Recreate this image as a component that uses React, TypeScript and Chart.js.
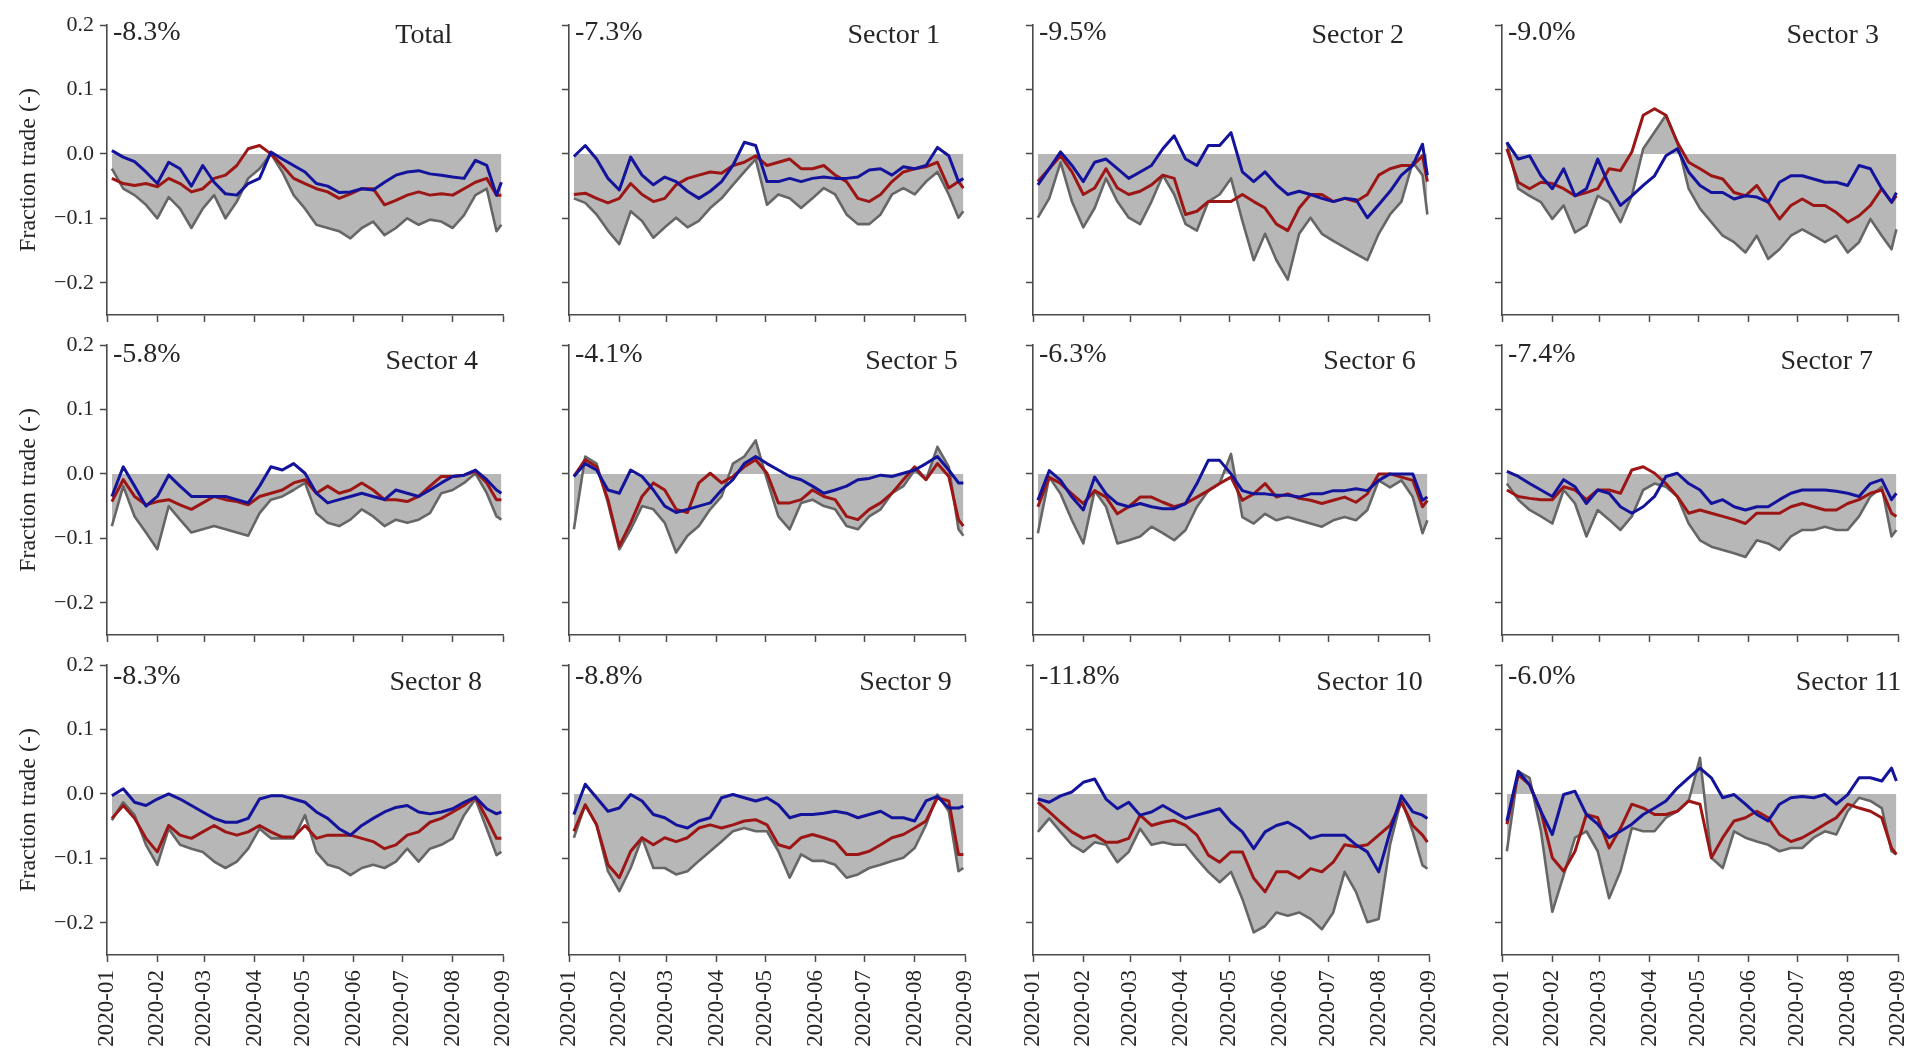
import React, { useEffect, useRef } from "react";
import { Chart, registerables } from "chart.js";

Chart.register(...registerables);

// ---------- data ----------
const DAYS = [3, 10, 17, 24, 31, 38, 45, 52, 59, 66, 73, 80, 87, 94, 101, 108, 115, 122, 129, 136, 143, 150, 157, 164, 171, 178, 185, 192, 199, 206, 213, 220, 227, 234, 240, 243];

const MONTH_DAYS = [0, 31, 60, 91, 121, 152, 182, 213, 244];
const MONTH_LABELS = ["2020-01", "2020-02", "2020-03", "2020-04", "2020-05", "2020-06", "2020-07", "2020-08", "2020-09"];
const Y_TICKS = [-0.2, -0.1, 0, 0.1, 0.2];
const Y_TICK_LABELS = ["\u22120.2", "\u22120.1", "0.0", "0.1", "0.2"];
const Y_TITLE = "Fraction trade (-)";

const PANEL_TITLES = ["Total", "Sector 1", "Sector 2", "Sector 3", "Sector 4", "Sector 5", "Sector 6", "Sector 7", "Sector 8", "Sector 9", "Sector 10", "Sector 11"];
const PANEL_PERCENTS = ["-8.3%", "-7.3%", "-9.5%", "-9.0%", "-5.8%", "-4.1%", "-6.3%", "-7.4%", "-8.3%", "-8.8%", "-11.8%", "-6.0%"];

const TOTAL_BLUE = [0.005, -0.005, -0.012, -0.028, -0.046, -0.013, -0.023, -0.05, -0.018, -0.044, -0.062, -0.064, -0.046, -0.038, 0.003, -0.008, -0.018, -0.028, -0.046, -0.05, -0.06, -0.059, -0.054, -0.056, -0.044, -0.033, -0.028, -0.026, -0.031, -0.033, -0.036, -0.038, -0.01, -0.018, -0.064, -0.044];
const TOTAL_RED = [-0.038, -0.046, -0.049, -0.046, -0.051, -0.038, -0.046, -0.059, -0.054, -0.038, -0.033, -0.018, 0.008, 0.013, 0.0, -0.018, -0.038, -0.046, -0.054, -0.059, -0.069, -0.062, -0.054, -0.054, -0.079, -0.072, -0.064, -0.059, -0.064, -0.062, -0.064, -0.054, -0.044, -0.038, -0.064, -0.064];
const TOTAL_GRAY = [-0.023, -0.054, -0.064, -0.079, -0.1, -0.067, -0.085, -0.115, -0.085, -0.064, -0.1, -0.074, -0.038, -0.023, 0.0, -0.028, -0.064, -0.085, -0.11, -0.115, -0.12, -0.131, -0.115, -0.105, -0.126, -0.115, -0.1, -0.11, -0.102, -0.105, -0.115, -0.095, -0.064, -0.054, -0.12, -0.11];

const S1_BLUE = [-0.004, 0.013, -0.008, -0.038, -0.056, -0.005, -0.033, -0.048, -0.036, -0.043, -0.058, -0.069, -0.058, -0.043, -0.018, 0.018, 0.013, -0.043, -0.043, -0.038, -0.043, -0.038, -0.036, -0.038, -0.038, -0.036, -0.025, -0.023, -0.033, -0.02, -0.023, -0.018, 0.01, -0.003, -0.043, -0.038];
const S1_RED = [-0.063, -0.061, -0.069, -0.076, -0.069, -0.046, -0.063, -0.074, -0.069, -0.048, -0.038, -0.033, -0.028, -0.03, -0.018, -0.013, -0.003, -0.018, -0.013, -0.008, -0.023, -0.023, -0.018, -0.033, -0.043, -0.069, -0.074, -0.063, -0.043, -0.028, -0.023, -0.02, -0.013, -0.053, -0.043, -0.053];
const S1_GRAY = [-0.069, -0.076, -0.094, -0.119, -0.14, -0.089, -0.104, -0.13, -0.114, -0.099, -0.114, -0.104, -0.084, -0.069, -0.048, -0.028, -0.008, -0.079, -0.063, -0.069, -0.084, -0.069, -0.053, -0.063, -0.094, -0.109, -0.109, -0.094, -0.063, -0.053, -0.063, -0.043, -0.028, -0.063, -0.099, -0.089];

const S2_BLUE = [-0.048, -0.023, 0.003, -0.018, -0.043, -0.013, -0.008, -0.023, -0.038, -0.028, -0.018, 0.008, 0.028, -0.008, -0.018, 0.013, 0.013, 0.033, -0.028, -0.043, -0.028, -0.048, -0.063, -0.058, -0.063, -0.069, -0.074, -0.069, -0.071, -0.099, -0.079, -0.058, -0.033, -0.018, 0.015, -0.033];
const S2_RED = [-0.043, -0.023, -0.003, -0.028, -0.063, -0.053, -0.023, -0.053, -0.063, -0.058, -0.048, -0.033, -0.038, -0.094, -0.089, -0.074, -0.074, -0.074, -0.063, -0.074, -0.084, -0.109, -0.119, -0.084, -0.063, -0.063, -0.074, -0.069, -0.074, -0.063, -0.033, -0.023, -0.018, -0.018, -0.003, -0.043];
const S2_GRAY = [-0.099, -0.069, -0.013, -0.074, -0.114, -0.084, -0.038, -0.074, -0.099, -0.109, -0.074, -0.033, -0.063, -0.109, -0.119, -0.074, -0.063, -0.038, -0.104, -0.165, -0.124, -0.165, -0.195, -0.124, -0.099, -0.124, -0.135, -0.145, -0.155, -0.165, -0.124, -0.094, -0.074, -0.013, -0.033, -0.094];

const S3_BLUE = [0.018, -0.008, -0.003, -0.034, -0.054, -0.023, -0.065, -0.054, -0.008, -0.049, -0.08, -0.065, -0.049, -0.034, -0.003, 0.008, -0.028, -0.049, -0.06, -0.06, -0.07, -0.065, -0.067, -0.075, -0.044, -0.034, -0.034, -0.039, -0.044, -0.044, -0.049, -0.018, -0.023, -0.054, -0.075, -0.06];
const S3_RED = [0.008, -0.044, -0.054, -0.044, -0.046, -0.054, -0.065, -0.06, -0.054, -0.023, -0.026, 0.003, 0.06, 0.07, 0.06, 0.018, -0.013, -0.023, -0.034, -0.039, -0.06, -0.065, -0.049, -0.075, -0.101, -0.08, -0.07, -0.08, -0.08, -0.091, -0.106, -0.096, -0.08, -0.054, -0.075, -0.065];
const S3_GRAY = [0.018, -0.054, -0.065, -0.075, -0.101, -0.08, -0.122, -0.111, -0.065, -0.075, -0.106, -0.065, 0.008, 0.034, 0.06, 0.018, -0.054, -0.085, -0.106, -0.127, -0.137, -0.153, -0.127, -0.163, -0.148, -0.127, -0.117, -0.127, -0.137, -0.127, -0.153, -0.137, -0.101, -0.127, -0.148, -0.117];

const S4_BLUE = [-0.035, 0.011, -0.019, -0.05, -0.035, -0.002, -0.019, -0.035, -0.035, -0.035, -0.035, -0.04, -0.045, -0.019, 0.011, 0.006, 0.016, 0.001, -0.03, -0.045, -0.04, -0.035, -0.03, -0.035, -0.04, -0.025, -0.03, -0.035, -0.025, -0.014, -0.004, -0.002, 0.006, -0.009, -0.025, -0.03];
const S4_RED = [-0.043, -0.009, -0.035, -0.048, -0.043, -0.04, -0.048, -0.055, -0.045, -0.035, -0.04, -0.043, -0.048, -0.035, -0.03, -0.025, -0.014, -0.009, -0.03, -0.019, -0.03, -0.025, -0.014, -0.025, -0.04, -0.04, -0.043, -0.035, -0.019, -0.004, -0.004, -0.002, 0.004, -0.014, -0.04, -0.04];
const S4_GRAY = [-0.081, -0.019, -0.066, -0.091, -0.117, -0.05, -0.071, -0.091, -0.086, -0.081, -0.086, -0.091, -0.096, -0.061, -0.04, -0.035, -0.025, -0.014, -0.061, -0.076, -0.081, -0.071, -0.055, -0.066, -0.081, -0.071, -0.076, -0.071, -0.061, -0.03, -0.025, -0.014, 0.001, -0.03, -0.066, -0.071];

const S5_BLUE = [-0.004, 0.016, 0.006, -0.025, -0.03, 0.006, -0.004, -0.025, -0.05, -0.06, -0.055, -0.05, -0.045, -0.025, -0.009, 0.016, 0.027, 0.016, 0.006, -0.004, -0.009, -0.019, -0.03, -0.025, -0.019, -0.009, -0.007, -0.002, -0.004, 0.001, 0.006, 0.016, 0.027, 0.006, -0.014, -0.014];
const S5_RED = [-0.004, 0.022, 0.011, -0.04, -0.112, -0.076, -0.035, -0.014, -0.025, -0.055, -0.06, -0.014, 0.001, -0.014, -0.004, 0.011, 0.022, 0.001, -0.045, -0.045, -0.04, -0.025, -0.035, -0.04, -0.066, -0.071, -0.055, -0.045, -0.03, -0.009, 0.011, -0.009, 0.016, -0.004, -0.071, -0.081];
const S5_GRAY = [-0.086, 0.027, 0.016, -0.045, -0.117, -0.086, -0.05, -0.055, -0.076, -0.122, -0.096, -0.081, -0.055, -0.035, 0.016, 0.027, 0.052, -0.009, -0.066, -0.086, -0.045, -0.04, -0.05, -0.055, -0.081, -0.086, -0.066, -0.055, -0.03, -0.019, 0.006, -0.009, 0.042, 0.011, -0.086, -0.096];

const S6_BLUE = [-0.041, 0.005, -0.01, -0.036, -0.056, -0.005, -0.031, -0.046, -0.051, -0.046, -0.051, -0.054, -0.054, -0.046, -0.015, 0.021, 0.021, 0.0, -0.026, -0.031, -0.031, -0.033, -0.033, -0.036, -0.031, -0.031, -0.026, -0.026, -0.023, -0.026, -0.01, 0.0, 0.0, 0.0, -0.041, -0.036];
const S6_RED = [-0.051, -0.005, -0.015, -0.031, -0.046, -0.026, -0.036, -0.062, -0.051, -0.036, -0.036, -0.044, -0.051, -0.046, -0.036, -0.026, -0.015, -0.005, -0.041, -0.031, -0.015, -0.036, -0.031, -0.038, -0.041, -0.046, -0.041, -0.036, -0.044, -0.031, 0.0, 0.0, -0.005, -0.01, -0.051, -0.041];
const S6_GRAY = [-0.092, -0.005, -0.031, -0.072, -0.108, -0.026, -0.051, -0.108, -0.103, -0.097, -0.082, -0.092, -0.103, -0.087, -0.051, -0.026, -0.015, 0.031, -0.067, -0.077, -0.062, -0.072, -0.067, -0.072, -0.077, -0.082, -0.072, -0.067, -0.072, -0.056, -0.01, -0.021, -0.01, -0.036, -0.092, -0.072];

const S7_BLUE = [0.004, -0.004, -0.015, -0.025, -0.035, -0.009, -0.02, -0.046, -0.025, -0.03, -0.051, -0.061, -0.051, -0.035, -0.004, 0.001, -0.015, -0.025, -0.046, -0.04, -0.051, -0.056, -0.051, -0.051, -0.04, -0.03, -0.025, -0.025, -0.025, -0.027, -0.03, -0.035, -0.015, -0.009, -0.04, -0.03];
const S7_RED = [-0.025, -0.035, -0.038, -0.04, -0.04, -0.02, -0.025, -0.04, -0.025, -0.025, -0.03, 0.006, 0.011, 0.001, -0.015, -0.035, -0.061, -0.056, -0.061, -0.066, -0.071, -0.077, -0.061, -0.061, -0.061, -0.051, -0.046, -0.051, -0.056, -0.056, -0.046, -0.04, -0.03, -0.025, -0.061, -0.066];
const S7_GRAY = [-0.015, -0.04, -0.056, -0.066, -0.077, -0.025, -0.046, -0.097, -0.056, -0.071, -0.087, -0.066, -0.025, -0.015, -0.02, -0.035, -0.077, -0.103, -0.113, -0.118, -0.123, -0.129, -0.103, -0.108, -0.118, -0.097, -0.087, -0.087, -0.082, -0.087, -0.087, -0.066, -0.035, -0.02, -0.097, -0.087];

const S8_BLUE = [-0.003, 0.008, -0.013, -0.018, -0.008, 0.0, -0.008, -0.018, -0.028, -0.038, -0.044, -0.044, -0.038, -0.008, -0.003, -0.003, -0.008, -0.013, -0.028, -0.038, -0.054, -0.064, -0.049, -0.038, -0.028, -0.021, -0.018, -0.028, -0.031, -0.028, -0.023, -0.013, -0.005, -0.023, -0.031, -0.028];
const S8_RED = [-0.038, -0.018, -0.038, -0.069, -0.09, -0.049, -0.064, -0.069, -0.059, -0.049, -0.059, -0.064, -0.059, -0.049, -0.059, -0.067, -0.067, -0.049, -0.069, -0.064, -0.064, -0.064, -0.069, -0.074, -0.085, -0.079, -0.064, -0.059, -0.044, -0.038, -0.028, -0.018, -0.005, -0.038, -0.069, -0.069];
const S8_GRAY = [-0.041, -0.013, -0.033, -0.079, -0.11, -0.054, -0.079, -0.085, -0.09, -0.105, -0.115, -0.105, -0.085, -0.054, -0.069, -0.069, -0.069, -0.033, -0.09, -0.11, -0.115, -0.126, -0.115, -0.11, -0.115, -0.105, -0.085, -0.105, -0.085, -0.079, -0.069, -0.033, -0.008, -0.054, -0.095, -0.09];

const S9_BLUE = [-0.032, 0.015, -0.006, -0.027, -0.022, -0.001, -0.011, -0.032, -0.037, -0.048, -0.053, -0.042, -0.037, -0.006, -0.001, -0.006, -0.011, -0.006, -0.017, -0.037, -0.032, -0.032, -0.03, -0.027, -0.03, -0.037, -0.032, -0.027, -0.037, -0.037, -0.042, -0.011, -0.004, -0.022, -0.022, -0.019];
const S9_RED = [-0.058, -0.017, -0.048, -0.11, -0.13, -0.089, -0.068, -0.079, -0.068, -0.074, -0.068, -0.053, -0.048, -0.053, -0.048, -0.042, -0.04, -0.048, -0.079, -0.084, -0.068, -0.063, -0.068, -0.074, -0.094, -0.094, -0.089, -0.079, -0.068, -0.063, -0.053, -0.042, -0.006, -0.011, -0.094, -0.094];
const S9_GRAY = [-0.068, -0.017, -0.048, -0.12, -0.151, -0.115, -0.068, -0.115, -0.115, -0.125, -0.12, -0.104, -0.089, -0.074, -0.058, -0.053, -0.058, -0.058, -0.089, -0.13, -0.094, -0.104, -0.104, -0.11, -0.13, -0.125, -0.115, -0.11, -0.104, -0.099, -0.084, -0.048, -0.001, -0.027, -0.12, -0.115];

const S10_BLUE = [-0.008, -0.013, -0.003, 0.003, 0.018, 0.023, -0.008, -0.023, -0.013, -0.033, -0.028, -0.018, -0.028, -0.038, -0.033, -0.028, -0.023, -0.044, -0.059, -0.085, -0.059, -0.049, -0.044, -0.054, -0.069, -0.064, -0.064, -0.064, -0.079, -0.09, -0.121, -0.059, -0.003, -0.028, -0.033, -0.038];
const S10_RED = [-0.013, -0.028, -0.044, -0.059, -0.069, -0.064, -0.075, -0.075, -0.069, -0.033, -0.049, -0.044, -0.041, -0.049, -0.064, -0.095, -0.106, -0.09, -0.09, -0.131, -0.152, -0.121, -0.121, -0.131, -0.116, -0.121, -0.106, -0.079, -0.082, -0.079, -0.064, -0.049, -0.013, -0.049, -0.064, -0.075];
const S10_GRAY = [-0.059, -0.038, -0.059, -0.079, -0.09, -0.075, -0.079, -0.106, -0.09, -0.054, -0.079, -0.075, -0.079, -0.079, -0.101, -0.121, -0.137, -0.121, -0.163, -0.215, -0.205, -0.184, -0.189, -0.184, -0.194, -0.21, -0.184, -0.121, -0.152, -0.199, -0.194, -0.079, -0.008, -0.059, -0.111, -0.116];

const S11_BLUE = [-0.042, 0.035, 0.014, -0.027, -0.063, -0.001, 0.004, -0.032, -0.047, -0.068, -0.058, -0.047, -0.032, -0.022, -0.011, 0.009, 0.025, 0.04, 0.025, -0.006, -0.001, -0.016, -0.032, -0.042, -0.016, -0.006, -0.004, -0.006, -0.001, -0.016, -0.001, 0.025, 0.025, 0.02, 0.04, 0.02];
const S11_RED = [-0.047, 0.03, 0.014, -0.027, -0.099, -0.12, -0.089, -0.032, -0.037, -0.084, -0.053, -0.016, -0.022, -0.032, -0.032, -0.027, -0.011, -0.016, -0.099, -0.068, -0.042, -0.037, -0.027, -0.037, -0.063, -0.074, -0.068, -0.058, -0.047, -0.037, -0.016, -0.022, -0.027, -0.037, -0.084, -0.094];
const S11_GRAY = [-0.089, 0.035, 0.025, -0.058, -0.183, -0.126, -0.068, -0.058, -0.089, -0.162, -0.12, -0.053, -0.058, -0.058, -0.037, -0.027, -0.011, 0.056, -0.099, -0.115, -0.058, -0.068, -0.074, -0.079, -0.089, -0.084, -0.084, -0.068, -0.058, -0.063, -0.027, -0.006, -0.011, -0.022, -0.089, -0.094];

const BLUE_SERIES = [TOTAL_BLUE, S1_BLUE, S2_BLUE, S3_BLUE, S4_BLUE, S5_BLUE, S6_BLUE, S7_BLUE, S8_BLUE, S9_BLUE, S10_BLUE, S11_BLUE];
const RED_SERIES = [TOTAL_RED, S1_RED, S2_RED, S3_RED, S4_RED, S5_RED, S6_RED, S7_RED, S8_RED, S9_RED, S10_RED, S11_RED];
const GRAY_SERIES = [TOTAL_GRAY, S1_GRAY, S2_GRAY, S3_GRAY, S4_GRAY, S5_GRAY, S6_GRAY, S7_GRAY, S8_GRAY, S9_GRAY, S10_GRAY, S11_GRAY];

// ---------- layout & style ----------
const COL_X = [107, 569, 1033, 1502];
const ROW_Y = [25, 345, 665];
const PLOT_W = 396;
const PLOT_H = 290;
const PAD_L = 100;
const PAD_T = 20;
const PAD_R = 40;
const PAD_B = 100;
const PCT_DY = [8, 10, 12];
const TITLE_DY = [11, 17, 18];
const TITLE_X_FRAC = [0.8, 0.82, 0.82, 0.835, 0.82, 0.865, 0.85, 0.82, 0.83, 0.85, 0.85, 0.875];

const FONT = '"Liberation Serif", "Times New Roman", serif';
const TEXT = "#262626";
const AXIS = "#4a4a4a";
const BLUE = "#13139c";
const RED = "#9c1616";
const GRAY_LINE = "#666666";
const GRAY_FILL = "#b7b7b7";

const toPts = (vals: number[]) => vals.map((v, i) => ({ x: DAYS[i], y: v }));

const textPlugin = {
  id: "panelText",
  afterDraw(chart: any, _args: any, opts: any) {
    const { ctx, chartArea: a } = chart;
    ctx.save();
    ctx.fillStyle = TEXT;
    ctx.textBaseline = "middle";
    ctx.textAlign = "left";
    ctx.font = `28px ${FONT}`;
    ctx.fillText(opts.percent, a.left + 6, a.top + opts.pctDy);
    ctx.textAlign = "center";
    ctx.fillText(opts.title, a.left + a.width * opts.titleX, a.top + opts.titleDy);
    if (opts.yTitle) {
      ctx.translate(a.left - 78, (a.top + a.bottom) / 2);
      ctx.rotate(-Math.PI / 2);
      ctx.font = `24px ${FONT}`;
      ctx.fillText(Y_TITLE, 0, 0);
    }
    ctx.restore();
  },
};

function Panel({ idx }: { idx: number }) {
  const ref = useRef<HTMLCanvasElement | null>(null);
  const r = Math.floor(idx / 4);
  const c = idx % 4;
  const w = PAD_L + PLOT_W + PAD_R;
  const h = PAD_T + PLOT_H + PAD_B;

  useEffect(() => {
    if (!ref.current) return;
    const showY = c === 0;
    const showX = r === 2;
    const chart = new Chart(ref.current, {
      type: "line",
      data: {
        datasets: [
          {
            label: "blue",
            data: toPts(BLUE_SERIES[idx]),
            borderColor: BLUE,
            borderWidth: 3,
            pointRadius: 0,
            fill: false,
            tension: 0,
            borderJoinStyle: "round",
            order: 0,
          },
          {
            label: "red",
            data: toPts(RED_SERIES[idx]),
            borderColor: RED,
            borderWidth: 3,
            pointRadius: 0,
            fill: false,
            tension: 0,
            borderJoinStyle: "round",
            order: 1,
          },
          {
            label: "gray",
            data: toPts(GRAY_SERIES[idx]),
            borderColor: GRAY_LINE,
            backgroundColor: GRAY_FILL,
            borderWidth: 2.6,
            pointRadius: 0,
            fill: "origin",
            tension: 0,
            borderJoinStyle: "round",
            order: 2,
          },
        ],
      },
      options: {
        responsive: false,
        maintainAspectRatio: false,
        animation: false,
        events: [],
        layout: { padding: { left: 0, top: PAD_T, right: PAD_R, bottom: 0 } },
        plugins: {
          legend: { display: false },
          tooltip: { enabled: false },
          panelText: {
            percent: PANEL_PERCENTS[idx],
            title: PANEL_TITLES[idx],
            titleX: TITLE_X_FRAC[idx],
            pctDy: PCT_DY[r],
            titleDy: TITLE_DY[r],
            yTitle: showY,
          },
        } as any,
        scales: {
          x: {
            type: "linear",
            min: MONTH_DAYS[0],
            max: MONTH_DAYS[MONTH_DAYS.length - 1],
            afterBuildTicks: (s: any) => {
              s.ticks = MONTH_DAYS.map((v) => ({ value: v }));
            },
            afterFit: (s: any) => {
              s.height = PAD_B;
            },
            grid: { display: true, drawOnChartArea: false, drawTicks: true, tickLength: 7, color: AXIS, tickColor: AXIS, tickWidth: 1.5 },
            border: { display: true, color: AXIS, width: 1.6 },
            ticks: {
              display: showX,
              autoSkip: false,
              maxRotation: 90,
              minRotation: 90,
              padding: 8,
              color: TEXT,
              font: { family: FONT, size: 23 },
              callback: (_v: any, i: number) => MONTH_LABELS[i],
            },
          },
          y: {
            type: "linear",
            min: -0.25,
            max: 0.2,
            afterBuildTicks: (s: any) => {
              s.ticks = Y_TICKS.map((v) => ({ value: v }));
            },
            afterFit: (s: any) => {
              s.width = PAD_L;
            },
            grid: { display: true, drawOnChartArea: false, drawTicks: true, tickLength: 7, color: AXIS, tickColor: AXIS, tickWidth: 1.5 },
            border: { display: true, color: AXIS, width: 1.6 },
            ticks: {
              display: showY,
              padding: 6,
              color: TEXT,
              font: { family: FONT, size: 22 },
              callback: (_v: any, i: number) => Y_TICK_LABELS[i],
            },
          },
        },
      },
      plugins: [textPlugin],
    } as any);
    return () => chart.destroy();
  }, [idx, r, c]);

  return (
    <canvas
      ref={ref}
      width={w}
      height={h}
      style={{ position: "absolute", left: COL_X[c] - PAD_L, top: ROW_Y[r] - PAD_T, width: w, height: h }}
    />
  );
}

export default function App() {
  return (
    <div style={{ position: "absolute", left: 0, top: 0, width: 1929, height: 1061, overflow: "hidden", background: "#ffffff" }}>
      {PANEL_TITLES.map((_, i) => (
        <Panel key={i} idx={i} />
      ))}
    </div>
  );
}
